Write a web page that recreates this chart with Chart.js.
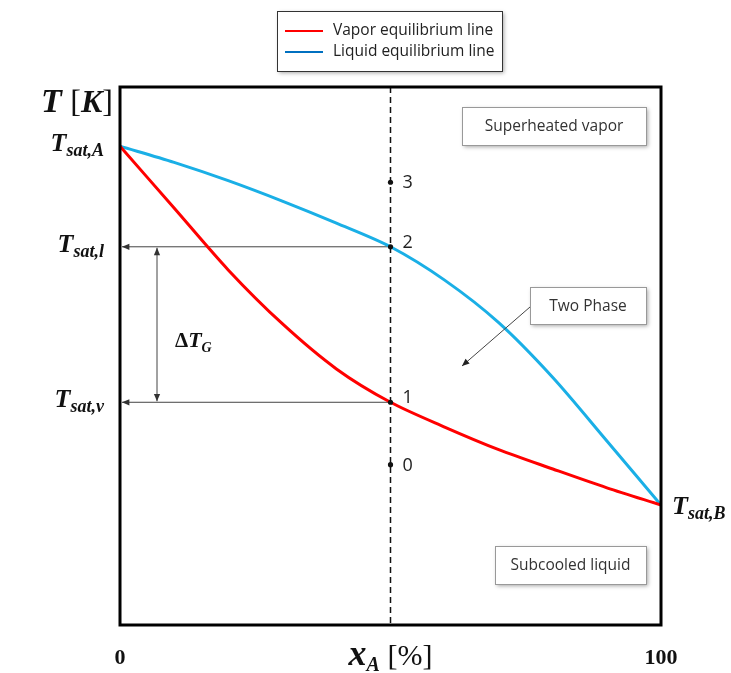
<!DOCTYPE html>
<html>
<head>
<meta charset="utf-8">
<script src="https://cdn.jsdelivr.net/npm/chart.js@4/dist/chart.umd.min.js"></script>
<style>
  html, body { margin: 0; background: #fff; }
  #wrap { width: 731px; height: 673px; }
</style>
</head>
<body>
<div id="wrap"><canvas id="c" width="731" height="673"></canvas></div>
<script>
// composition x_A [%] and temperatures (arbitrary scale 0..100)
const xPct = [0, 10, 20, 30, 40, 50, 60, 70, 80, 90, 100];
const vaporT = [89, 77.5, 66.0, 56.0, 47.6, 41.4, 36.8, 32.6, 29.0, 25.5, 22.3];
const liquidT = [89, 86.0, 82.6, 78.8, 74.7, 70.3, 64.1, 56.2, 46.0, 34.2, 22.3];

const seriesNames = ['Vapor equilibrium line', 'Liquid equilibrium line'];
const seriesColors = ['#FF0000', '#1AAFE6'];
const legendColors = ['#FF0000', '#0070C0'];

// state points on the dashed line
const stateX = 50;
const stateT = [29.8, 41.4, 70.3, 82.3];
const stateLabels = ['0', '1', '2', '3'];

// y tick labels (main letter, subscript)
const yTickT = [89, 70.3, 41.4];
const yTickLabels = [['T', 'sat,A'], ['T', 'sat,l'], ['T', 'sat,v']];
const tsatB = 22.3;
const xTicks = [0, 100];
const xTickLabels = ['0', '100'];

const SERIF = '"Liberation Serif", "DejaVu Serif", serif';
const SANS = '"Open Sans", "Noto Sans", sans-serif';

// draw a list of [text, font, dy] pieces side by side
function mathText(ctx, segs, x, y, align) {
  let w = 0;
  segs.forEach(s => { ctx.font = s[1]; w += ctx.measureText(s[0]).width; });
  let cx = align === 'right' ? x - w : align === 'center' ? x - w / 2 : x;
  ctx.textAlign = 'left';
  ctx.textBaseline = 'alphabetic';
  segs.forEach(s => {
    ctx.font = s[1];
    ctx.fillText(s[0], cx, y + (s[2] || 0));
    cx += ctx.measureText(s[0]).width;
  });
}

function arrowHead(ctx, x1, y1, x2, y2, size) {
  const a = Math.atan2(y2 - y1, x2 - x1);
  ctx.beginPath();
  ctx.moveTo(x2, y2);
  ctx.lineTo(x2 - size * Math.cos(a - 0.4), y2 - size * Math.sin(a - 0.4));
  ctx.lineTo(x2 - size * Math.cos(a + 0.4), y2 - size * Math.sin(a + 0.4));
  ctx.closePath();
  ctx.fill();
}

function arrow(ctx, x1, y1, x2, y2, both) {
  ctx.beginPath();
  ctx.moveTo(x1, y1);
  ctx.lineTo(x2, y2);
  ctx.stroke();
  arrowHead(ctx, x1, y1, x2, y2, 8);
  if (both) arrowHead(ctx, x2, y2, x1, y1, 8);
}

function shadowBox(ctx, x, y, w, h, stroke) {
  ctx.save();
  ctx.shadowColor = 'rgba(0,0,0,0.35)';
  ctx.shadowBlur = 4;
  ctx.shadowOffsetX = 2;
  ctx.shadowOffsetY = 2;
  ctx.fillStyle = '#fff';
  ctx.fillRect(x, y, w, h);
  ctx.restore();
  ctx.strokeStyle = stroke;
  ctx.lineWidth = 1;
  ctx.strokeRect(x + 0.5, y + 0.5, w, h);
}

const decor = {
  id: 'decor',
  beforeDatasetsDraw(chart) {
    const { ctx, chartArea: ca, scales: { x, y } } = chart;
    ctx.save();
    // dashed line at x = 50
    const px = x.getPixelForValue(stateX);
    ctx.strokeStyle = '#111';
    ctx.lineWidth = 1.5;
    ctx.setLineDash([6, 4]);
    ctx.beginPath();
    ctx.moveTo(px, ca.top);
    ctx.lineTo(px, ca.bottom);
    ctx.stroke();
    ctx.setLineDash([]);

    // arrows back to the T axis
    ctx.strokeStyle = '#444';
    ctx.fillStyle = '#333';
    ctx.lineWidth = 1;
    const yl = y.getPixelForValue(stateT[2]);
    const yv = y.getPixelForValue(stateT[1]);
    arrow(ctx, px, yl, ca.left + 2, yl);
    arrow(ctx, px, yv, ca.left + 2, yv);
    arrow(ctx, ca.left + 37, yl + 1, ca.left + 37, yv - 1, true);
    ctx.restore();
  },
  afterDatasetsDraw(chart) {
    const { ctx, chartArea: ca, scales: { x, y } } = chart;
    ctx.save();
    const px = x.getPixelForValue(stateX);

    // state dots and numbers
    stateT.forEach((t, i) => {
      const py = y.getPixelForValue(t);
      ctx.fillStyle = '#111';
      ctx.beginPath();
      ctx.arc(px, py, 2.6, 0, Math.PI * 2);
      ctx.fill();
      ctx.font = '18px ' + SANS;
      ctx.textAlign = 'left';
      ctx.textBaseline = 'middle';
      ctx.fillStyle = '#222';
      ctx.fillText(stateLabels[i], px + 12, py + (i === 1 || i === 2 ? -4 : 1));
    });

    // frame
    ctx.strokeStyle = '#000';
    ctx.lineWidth = 3;
    ctx.strokeRect(ca.left, ca.top, ca.right - ca.left, ca.bottom - ca.top);

    // y tick labels
    ctx.fillStyle = '#111';
    yTickT.forEach((t, i) => {
      const py = y.getPixelForValue(t);
      mathText(ctx, [
        [yTickLabels[i][0], 'italic bold 26px ' + SERIF, 0],
        [yTickLabels[i][1], 'italic bold 18px ' + SERIF, 5]
      ], ca.left - 16, py + 5, 'right');
    });
    mathText(ctx, [
      ['T', 'italic bold 26px ' + SERIF, 0],
      ['sat,B', 'italic bold 18px ' + SERIF, 5]
    ], ca.right + 11, y.getPixelForValue(tsatB) + 9, 'left');

    // axis titles
    mathText(ctx, [
      ['T ', 'italic bold 34px ' + SERIF, 0],
      ['[', '32px ' + SERIF, 0],
      ['K', 'italic bold 32px ' + SERIF, 0],
      [']', '32px ' + SERIF, 0]
    ], ca.left - 7, ca.top + 25, 'right');
    mathText(ctx, [
      ['x', 'italic bold 36px ' + SERIF, 0],
      ['A', 'italic bold 20px ' + SERIF, 6],
      [' [%]', '30px ' + SERIF, 0]
    ], x.getPixelForValue(stateX), ca.bottom + 40, 'center');

    // x tick labels
    xTicks.forEach((v, i) => {
      mathText(ctx, [[xTickLabels[i], 'bold 22px ' + SERIF, 0]],
        x.getPixelForValue(v), ca.bottom + 39, 'center');
    });

    // delta T_G
    mathText(ctx, [
      ['\u0394', 'bold 21px ' + SERIF, 0],
      ['T', 'italic bold 22px ' + SERIF, 0],
      ['G', 'italic bold 14px ' + SERIF, 5]
    ], ca.left + 55, 347, 'left');

    // region boxes
    const boxes = [
      ['Superheated vapor', 462, 107, 184, 38],
      ['Two Phase', 530, 287, 116, 37],
      ['Subcooled liquid', 495, 546, 151, 38]
    ];
    boxes.forEach(b => {
      shadowBox(ctx, b[1], b[2], b[3], b[4], '#999');
      ctx.fillStyle = '#333';
      ctx.font = '15.5px ' + SANS;
      ctx.textAlign = 'center';
      ctx.textBaseline = 'middle';
      ctx.fillText(b[0], b[1] + b[3] / 2, b[2] + b[4] / 2 + 1);
    });
    ctx.strokeStyle = '#444';
    ctx.fillStyle = '#222';
    ctx.lineWidth = 1;
    arrow(ctx, 530, 307, 462, 366);

    // legend
    shadowBox(ctx, 277, 11, 225, 60, '#333');
    seriesNames.forEach((n, i) => {
      const ly = 31 + i * 21;
      ctx.strokeStyle = legendColors[i];
      ctx.lineWidth = 2;
      ctx.beginPath();
      ctx.moveTo(285, ly);
      ctx.lineTo(323, ly);
      ctx.stroke();
      ctx.fillStyle = '#222';
      ctx.font = '15.5px ' + SANS;
      ctx.textAlign = 'left';
      ctx.textBaseline = 'middle';
      ctx.fillText(n, 333, ly);
    });
    ctx.restore();
  }
};

new Chart(document.getElementById('c'), {
  type: 'line',
  data: {
    datasets: [
      {
        label: seriesNames[0],
        data: xPct.map((v, i) => ({ x: v, y: vaporT[i] })),
        borderColor: seriesColors[0],
        borderWidth: 3,
        pointRadius: 0,
        tension: 0.3,
        fill: false
      },
      {
        label: seriesNames[1],
        data: xPct.map((v, i) => ({ x: v, y: liquidT[i] })),
        borderColor: seriesColors[1],
        borderWidth: 3,
        pointRadius: 0,
        tension: 0.3,
        fill: false
      }
    ]
  },
  options: {
    responsive: false,
    animation: false,
    devicePixelRatio: 1,
    layout: { padding: { left: 120, right: 70, top: 87, bottom: 48 } },
    scales: {
      x: { type: 'linear', min: 0, max: 100, display: false },
      y: { type: 'linear', min: 0, max: 100, display: false }
    },
    plugins: {
      legend: { display: false },
      tooltip: { enabled: false }
    }
  },
  plugins: [decor]
});
</script>
</body>
</html>
